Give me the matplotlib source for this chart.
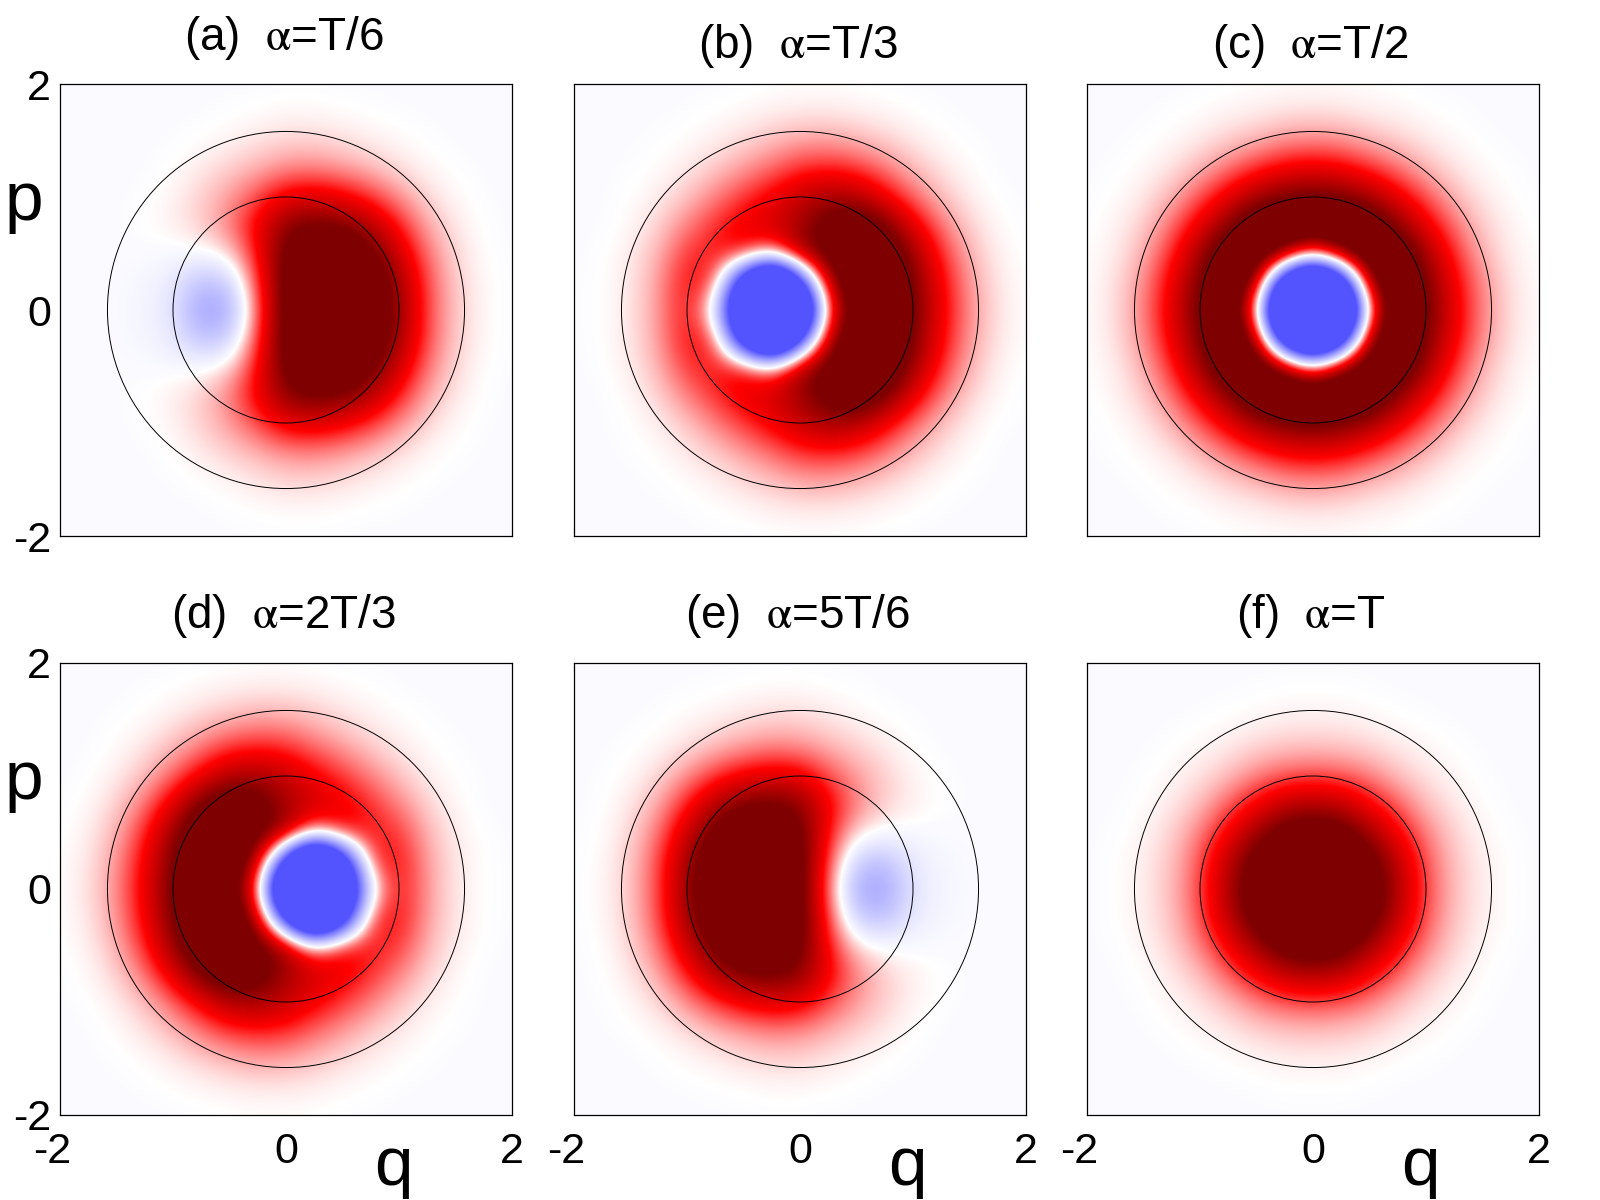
import matplotlib
matplotlib.use('Agg')
import matplotlib.pyplot as plt
from matplotlib.colors import LinearSegmentedColormap
from matplotlib.patches import Circle
from matplotlib.transforms import ScaledTranslation
import numpy as np

plt.rcParams['font.family'] = ['Liberation Sans', 'DejaVu Sans']
plt.rcParams['mathtext.fontset'] = 'stix'

titles = ['(a)  $\\mathrm{\\alpha}$=T/6', '(b)  $\\mathrm{\\alpha}$=T/3', '(c)  $\\mathrm{\\alpha}$=T/2',
          '(d)  $\\mathrm{\\alpha}$=2T/3', '(e)  $\\mathrm{\\alpha}$=5T/6', '(f)  $\\mathrm{\\alpha}$=T']
tick_values = [-2, 0, 2]
tick_labels = ['-2', '0', '2']
circle_radii = [1.0, 1.58]

# rows are p = 0, .25 .. 2, columns q = -2, -1.75 .. 2
panel_a = np.array([
    [0, -.002, -.01, -.04, -.13, -.55, -.5, .3, 1.15, 1.5, 1.6, 1.35, .9, .36, .11, .02, 0],
    [0, -.001, -.008, -.03, -.1, -.36, -.28, .38, 1.15, 1.5, 1.55, 1.3, .85, .35, .1, .02, 0],
    [0, 0, -.003, -.004, -.01, 0, .07, .48, 1.1, 1.35, 1.35, 1.1, .68, .27, .08, .01, 0],
    [0, 0, 0, .01, .04, .1, .25, .55, .95, 1.05, 1.0, .8, .45, .17, .05, .005, 0],
    [0, 0, 0, .005, .03, .1, .2, .36, .58, .62, .55, .4, .22, .08, .02, .002, 0],
    [0, 0, 0, 0, .01, .05, .1, .16, .23, .25, .2, .14, .07, .025, .006, 0, 0],
    [0, 0, 0, 0, .002, .01, .03, .06, .09, .09, .07, .04, .02, .005, 0, 0, 0],
    [0, 0, 0, 0, 0, 0, .005, .012, .02, .02, .012, .006, .002, 0, 0, 0, 0],
    [0, 0, 0, 0, 0, 0, 0, 0, .002, .002, 0, 0, 0, 0, 0, 0, 0],
])
panel_b = np.array([
    [0, .01, .05, .2, .5, -.05, -2.4, -4.0, -2.8, .4, 1.25, 1.5, 1.05, .55, .22, .06, .01],
    [0, .01, .05, .19, .5, .4, -1.6, -3.2, -1.3, .8, 1.35, 1.5, 1.0, .52, .2, .05, .01],
    [0, .005, .04, .15, .4, .48, .5, .2, .85, 1.15, 1.4, 1.35, .88, .42, .15, .035, .005],
    [0, 0, .02, .09, .25, .42, .58, .68, .85, 1.15, 1.3, 1.05, .6, .27, .09, .02, 0],
    [0, 0, .01, .04, .12, .25, .4, .55, .72, .85, .8, .55, .3, .13, .04, .005, 0],
    [0, 0, .003, .015, .05, .11, .2, .3, .42, .45, .4, .27, .14, .06, .015, 0, 0],
    [0, 0, 0, .005, .015, .04, .08, .13, .18, .19, .15, .1, .05, .015, .004, 0, 0],
    [0, 0, 0, 0, .002, .01, .02, .04, .05, .05, .04, .025, .01, .003, 0, 0, 0],
    [0, 0, 0, 0, 0, 0, .002, .005, .008, .008, .005, .002, 0, 0, 0, 0, 0],
])
# radially symmetric panels: rows p = 0 .. 2, columns q = 0 .. 2
quarter_c = np.array([
    [-4.0, -3.2, .25, 1.45, 1.08, .58, .24, .065, .015],
    [-3.2, -1.8, .9, 1.5, 1.0, .54, .22, .06, .012],
    [.25, .9, 1.4, 1.35, .85, .42, .15, .04, .01],
    [1.45, 1.5, 1.35, .95, .58, .28, .1, .03, .005],
    [1.08, 1.0, .85, .58, .34, .15, .05, .012, 0],
    [.58, .54, .42, .28, .15, .06, .02, .005, 0],
    [.24, .22, .15, .1, .05, .02, .005, 0, 0],
    [.065, .06, .04, .03, .012, .005, 0, 0, 0],
    [.015, .012, .01, .005, 0, 0, 0, 0, 0],
])
quarter_f = np.array([
    [1.6, 1.5, 1.25, .8, .36, .13, .04, .008, 0],
    [1.5, 1.4, 1.15, .75, .33, .12, .04, .008, 0],
    [1.25, 1.15, .88, .52, .25, .09, .025, .004, 0],
    [.8, .75, .52, .32, .13, .05, .012, 0, 0],
    [.36, .33, .25, .13, .06, .025, .004, 0, 0],
    [.13, .12, .09, .05, .025, .008, 0, 0, 0],
    [.04, .04, .025, .012, .004, 0, 0, 0, 0],
    [.008, .008, .004, 0, 0, 0, 0, 0, 0],
    [0, 0, 0, 0, 0, 0, 0, 0, 0],
])


def mirror_p(half):
    return np.vstack([half[:0:-1], half])


def mirror_q(quarter):
    return np.hstack([quarter[:, :0:-1], quarter])


# (d) and (e) are the mirror images of (b) and (a)
panels = [panel_a, panel_b, mirror_q(quarter_c),
          panel_b[:, ::-1], panel_a[:, ::-1], mirror_q(quarter_f)]

cmap = LinearSegmentedColormap.from_list('wigner', [
    (0.0, (0.33, 0.33, 1.0)),
    (0.5, (0.985, 0.985, 1.0)),
    (0.505, (1.0, 1.0, 1.0)),
    (0.75, (1.0, 0.0, 0.0)),
    (1.0, (0.5, 0.0, 0.0)),
], N=1024)

fig = plt.figure(figsize=(16, 12), dpi=100)
lefts = [60, 574, 1087]
tops = [84, 663]
ax_w = 452
ax_h = 452
pads = [24.5, 18.5, 18.5, 25.5, 25.5, 25.5]

for n in range(6):
    col = n % 3
    row = n // 3
    ax = fig.add_axes([lefts[col] / 1600, 1 - (tops[row] + ax_h) / 1200, ax_w / 1600, ax_h / 1200])
    ax.imshow(mirror_p(panels[n]), origin='lower', extent=(-2.125, 2.125, -2.125, 2.125),
              cmap=cmap, vmin=-1, vmax=1, interpolation='bicubic', interpolation_stage='data')
    ax.set_xlim(-2, 2)
    ax.set_ylim(-2, 2)
    ax.set_aspect('auto')
    for r in circle_radii:
        ax.add_patch(Circle((0, 0), r, fill=False, edgecolor='black', linewidth=0.7))
    for s in ax.spines.values():
        s.set_linewidth(0.9)

    ax.set_title(titles[n], fontsize=33, pad=pads[n], x=0.495)
    ax.tick_params(length=0, labelsize=31)
    if row == 1:
        ax.set_xticks(tick_values, tick_labels)
        ax.tick_params(axis='x', pad=12)
        lab = ax.get_xticklabels()[0]
        lab.set_transform(lab.get_transform() + ScaledTranslation(-8 / 100, 0, fig.dpi_scale_trans))
        ax.text(0.738, -0.155, 'q', transform=ax.transAxes, fontsize=50, ha='center', va='baseline')
    else:
        ax.set_xticks([])
    if col == 0:
        ax.set_yticks(tick_values, tick_labels)
        ax.tick_params(axis='y', pad=6.5)
        ax.text(-0.08, 0.70, 'p', transform=ax.transAxes, fontsize=50, ha='center', va='baseline')
    else:
        ax.set_yticks([])

plt.savefig('out.png', dpi=100)
